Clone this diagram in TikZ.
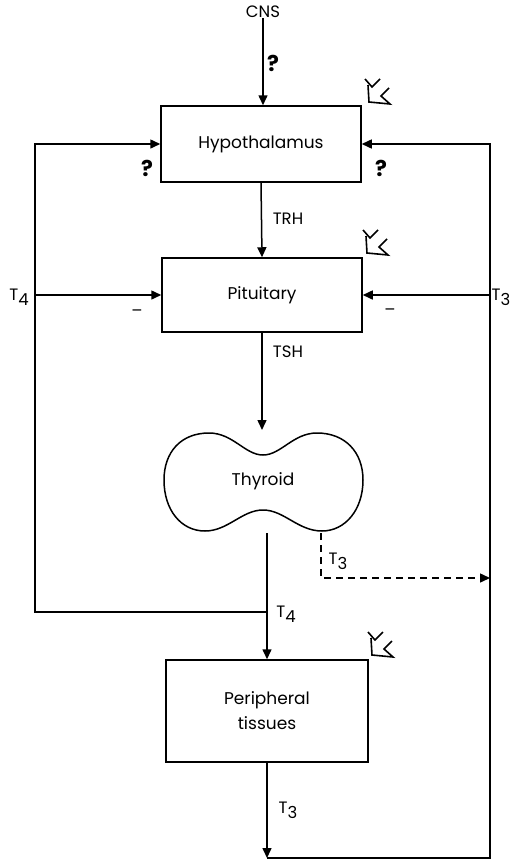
\documentclass[tikz,border=0pt]{standalone}
\usepackage{fontspec}
\setmainfont{Poppins}
\usetikzlibrary{arrows.meta, positioning}

\tikzset{
    organ/.style={draw, line width=1.5bp, minimum width=200bp, align=center},
    arr/.style={-{Triangle[length=10bp, width=9bp]}, line width=1.5bp},
    lbl/.style={font=\fontsize{16.5bp}{18bp}\selectfont, inner sep=0pt},
    qmark/.style={font=\fontsize{22bp}{22bp}\selectfont\bfseries, inner sep=0pt},
    zap/.pic={
        \draw[line width=1.6bp, line join=miter] (0,9) -- (7,17) -- (15,9);
        \draw[line width=1.6bp, line join=miter] (3,15) -- (4,32) -- (25,34) -- (16,26) -- (24,18);
    }
}
\newcommand{\Tn}[1]{T\raisebox{-0.55ex}{#1}}

\begin{document}
\begin{tikzpicture}[x=1bp, y=-1bp, font=\fontsize{17bp}{25bp}\selectfont]
    \useasboundingbox (0,0) rectangle (512,863);

    % boxes
    \node[lbl] (cns) at (263,12) {CNS};
    \node[organ, minimum height=76bp] (hypo) at (261,144) {Hypothalamus};
    \node[organ, minimum height=74bp] (pit) at (262,295) {Pituitary};
    \node[organ, minimum width=202bp, minimum height=102bp] (peri) at (267,711) {Peripheral\\tissues};
    \node[inner sep=0pt] (thy) at (263,481) {Thyroid};
    \draw[line width=1.5bp] (263,455)
        .. controls (281,455) and (293,433) .. (317,433)
        .. controls (345,433) and (363,452) .. (363,480)
        .. controls (363,510) and (345,531) .. (322,531)
        .. controls (298,531) and (284,510) .. (263,510)
        .. controls (242,510) and (228,531) .. (205,531)
        .. controls (181,531) and (164,510) .. (164,480)
        .. controls (164,452) and (181,433) .. (209,433)
        .. controls (233,433) and (245,455) .. (263,455) -- cycle;

    % corners
    \coordinate (lt) at (35,144);
    \coordinate (lp) at (35,295);
    \coordinate (lb) at (35,612);
    \coordinate (rt) at (490,144);
    \coordinate (rp) at (490,295);
    \coordinate (rd) at (490,578);
    \coordinate (rb) at (490,858);
    \coordinate (thytop) at (262,430);
    \coordinate (thybot) at (267,533);
    \coordinate (thyt3) at (321,533);
    \coordinate (dk) at (321,578);
    \coordinate (pbot) at (267,858);

    % main chain
    \draw[arr] (cns.south) -- (cns.south |- hypo.north);
    \draw[arr] (hypo.south) -- (pit.north);
    \draw[arr] (pit.south) -- (thytop);
    \draw[arr] (thybot) -- (peri.north);
    \draw[arr] (peri.south) -- (pbot);

    % feedback loops
    \draw[arr] (thybot |- lb) -- (lb) -- (lt) -- (hypo.west);
    \draw[arr] (lp) -- (pit.west);
    \draw[arr] (pbot) -- (rb) -- (rt) -- (hypo.east);
    \draw[arr] (rp) -- (pit.east);
    \draw[arr, dashed, dash pattern=on 7bp off 5bp] (thyt3) -- (dk) -- (rd);

    % labels
    \node[qmark] (q1) at (273,63) {?};
    \node[qmark] (q2) at (147,168) {?};
    \node[qmark] (q3) at (381,168) {?};
    \node[lbl] (trh) at (288,219) {TRH};
    \node[lbl] (tsh) at (288,352) {TSH};
    \node[lbl] (t4l) at (19,297) {\Tn{4}};
    \node[lbl] (t3r) at (501,297) {\Tn{3}};
    \node[lbl] (m1) at (137,313) {--};
    \node[lbl] (m2) at (390,312) {--};
    \node[lbl] (t3d) at (338,561) {\Tn{3}};
    \node[lbl] (t4b) at (286,614) {\Tn{4}};
    \node[lbl] (t3b) at (288,810) {\Tn{3}};

    % stimulus marks
    \pic at (365,70) {zap};
    \pic at (363,221) {zap};
    \pic at (368,623) {zap};
\end{tikzpicture}
\end{document}
